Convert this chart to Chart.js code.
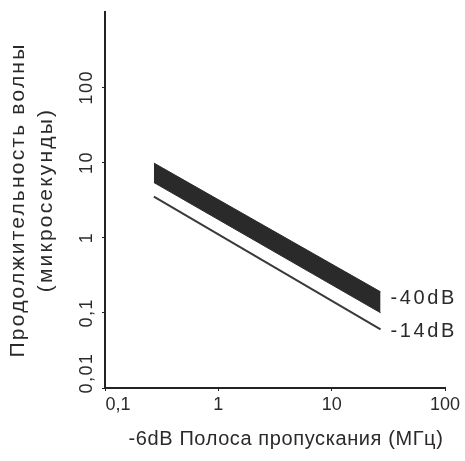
<!DOCTYPE html>
<html>
<head>
<meta charset="utf-8">
<script src="https://cdn.jsdelivr.net/npm/chart.js@4/dist/chart.umd.min.js"></script>
<style>
  html, body { margin: 0; padding: 0; background: #ffffff; }
  #wrap { width: 465px; height: 461px; }
</style>
</head>
<body>
<div id="wrap"><canvas id="c" width="465" height="461"></canvas></div>
<script>
// Data
const bandwidthMHz = [0.27, 27];          // x: -6dB bandwidth, MHz
const upper40dB = [9.8, 0.19];             // upper edge of -40dB band, µs
const lower40dB = [5.4, 0.10];             // lower edge of -40dB band, µs
const line14dB = [3.5, 0.06];              // -14dB line, µs

const xTickValues = [0.1, 1, 10, 100];
const xTickLabels = ['0,1', '1', '10', '100'];
const yTickValues = [0.01, 0.1, 1, 10, 100];
const yTickLabels = ['0,01', '0,1', '1', '10', '100'];

const seriesLabels = ['-40dB', '-14dB'];
const xTitle = '-6dB Полоса пропускания (МГц)';
const yTitle = ['Продолжительность волны', '(микросекунды)'];

const FONT = "'Liberation Sans', Arial, sans-serif";
const INK = '#2a2a2a';

const pts = (ys) => bandwidthMHz.map((x, i) => ({ x: x, y: ys[i] }));

const endLabels = {
  id: 'endLabels',
  afterDatasetsDraw(chart) {
    const ctx = chart.ctx;
    const mUp = chart.getDatasetMeta(0).data;
    const mLo = chart.getDatasetMeta(1).data;
    const m14 = chart.getDatasetMeta(2).data;
    const n = bandwidthMHz.length - 1;
    ctx.save();
    ctx.fillStyle = INK;
    ctx.font = "20px " + FONT;
    ctx.letterSpacing = '2.6px';
    ctx.textBaseline = 'middle';
    ctx.textAlign = 'left';
    const yBand = (mUp[n].y + mLo[n].y) / 2 - 4;
    ctx.fillText(seriesLabels[0], mLo[n].x + 10, yBand);
    ctx.fillText(seriesLabels[1], m14[n].x + 10, m14[n].y + 2);
    ctx.restore();
  }
};

// text tracking / small label nudges, applied around the library's own drawing
function wrap(obj, name, before) {
  const orig = obj[name];
  obj[name] = function () {
    const c = this.ctx;
    c.save();
    before(c);
    const r = orig.apply(this, arguments);
    c.restore();
    return r;
  };
}
const textTweaks = {
  id: 'textTweaks',
  beforeDraw(chart) {
    const xs = chart.scales.x, ys = chart.scales.y;
    if (xs._tw) return;
    xs._tw = ys._tw = true;
    wrap(xs, 'drawTitle', (c) => { c.letterSpacing = '0.6px'; c.translate(11, 0); });
    wrap(ys, 'drawTitle', (c) => { c.letterSpacing = '2.2px'; });
    wrap(ys, 'drawLabels', (c) => { c.letterSpacing = '1.5px'; });
    const ox = xs._computeLabelItems;
    xs._computeLabelItems = function (ca) {
      const items = ox.call(this, ca);
      if (items[0]) { const t = items[0].options.translation; items[0].options.translation = [t[0] + 13, t[1]]; }
      return items;
    };
    const oy = ys._computeLabelItems;
    ys._computeLabelItems = function (ca) {
      const items = oy.call(this, ca);
      if (items[0]) { const t = items[0].options.translation; items[0].options.translation = [t[0], t[1] - 15]; }
      return items;
    };
  }
};

new Chart(document.getElementById('c'), {
  type: 'line',
  data: {
    datasets: [
      { data: pts(upper40dB), borderColor: INK, backgroundColor: INK, borderWidth: 1, pointRadius: 0, fill: '+1' },
      { data: pts(lower40dB), borderColor: INK, backgroundColor: INK, borderWidth: 1, pointRadius: 0, fill: false },
      { data: pts(line14dB), borderColor: '#3a3a3a', borderWidth: 2, pointRadius: 0, fill: false }
    ]
  },
  options: {
    responsive: false,
    animation: false,
    devicePixelRatio: 1,
    layout: { padding: { top: 12, right: 20, left: 0, bottom: 0 } },
    plugins: { legend: { display: false }, tooltip: { enabled: false } },
    scales: {
      x: {
        type: 'logarithmic',
        min: 0.1, max: 100,
        afterBuildTicks: (s) => { s.ticks = xTickValues.map(v => ({ value: v })); },
        afterFit: (s) => { s.height = 73; },
        border: { display: true, color: '#222', width: 2 },
        grid: { display: true, drawOnChartArea: false, drawTicks: true, tickLength: 3, color: '#222', lineWidth: 1 },
        ticks: {
          color: INK, padding: 3, maxRotation: 0, minRotation: 0, autoSkip: false,
          font: { family: FONT, size: 18 },
          callback: (v) => { const i = xTickValues.indexOf(v); return i >= 0 ? xTickLabels[i] : ''; }
        },
        title: { display: true, text: xTitle, color: INK, font: { family: FONT, size: 20 }, padding: { top: 0, bottom: 10 } }
      },
      y: {
        type: 'logarithmic',
        min: 0.01, max: 1000,
        afterBuildTicks: (s) => { s.ticks = yTickValues.map(v => ({ value: v })); },
        afterFit: (s) => { s.width = 105; },
        border: { display: true, color: '#222', width: 2 },
        grid: { display: true, drawOnChartArea: false, drawTicks: true, tickLength: 3, color: '#222', lineWidth: 1 },
        ticks: {
          color: INK, padding: -2.5, minRotation: 90, maxRotation: 90, crossAlign: 'center', autoSkip: false,
          font: { family: FONT, size: 18 },
          callback: (v) => { const i = yTickValues.indexOf(v); return i >= 0 ? yTickLabels[i] : ''; }
        },
        title: { display: true, text: yTitle, color: INK, font: { family: FONT, size: 21, lineHeight: 1.35 }, padding: { top: 4, bottom: 0 } }
      }
    }
  },
  plugins: [endLabels, textTweaks]
});
</script>
</body>
</html>
